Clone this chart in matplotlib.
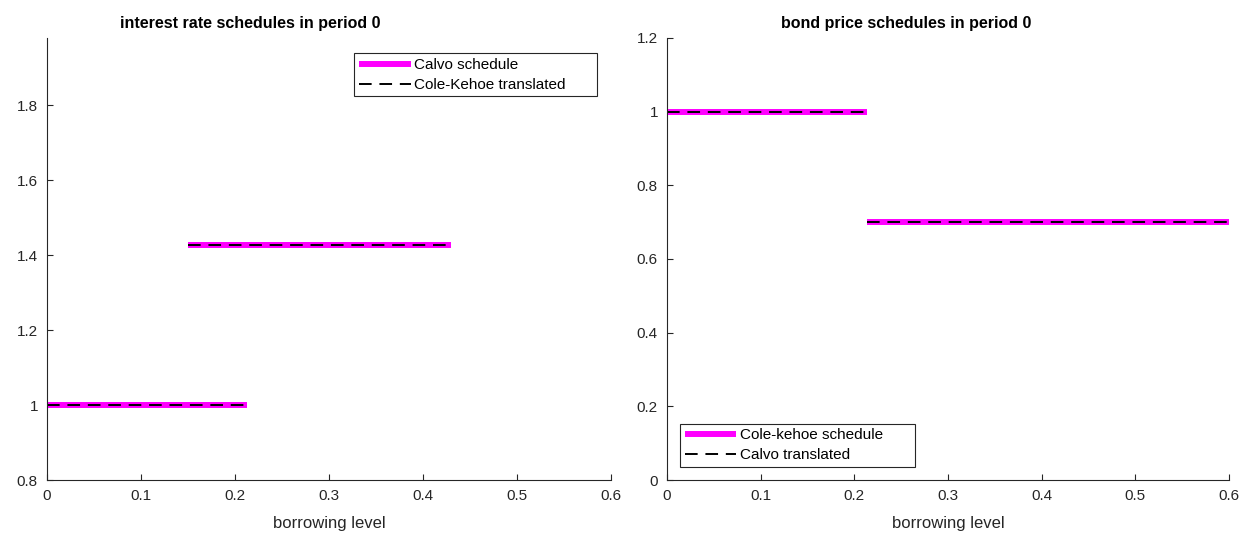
import matplotlib.pyplot as plt
from matplotlib.patches import Rectangle
from matplotlib.transforms import IdentityTransform

plt.rcParams['font.family'] = ['Liberation Sans', 'DejaVu Sans']

# interest rate schedules (left panel)
rate_calvo_x = [[0.0, 0.213], [0.15, 0.43]]
rate_calvo_y = [[1.0, 1.0], [1.4286, 1.4286]]
rate_ck_x = [[0.0, 0.213], [0.15, 0.43]]
rate_ck_y = [[1.0, 1.0], [1.4286, 1.4286]]

# bond price schedules (right panel)
price_ck_x = [[0.0, 0.213], [0.213, 0.6]]
price_ck_y = [[1.0, 1.0], [0.7, 0.7]]
price_calvo_x = [[0.0, 0.213], [0.213, 0.6]]
price_calvo_y = [[1.0, 1.0], [0.7, 0.7]]

xticks = [0, 0.1, 0.2, 0.3, 0.4, 0.5, 0.6]
xtick_labels = ['0', '0.1', '0.2', '0.3', '0.4', '0.5', '0.6']
left_yticks = [0.8, 1.0, 1.2, 1.4, 1.6, 1.8]
left_ytick_labels = ['0.8', '1', '1.2', '1.4', '1.6', '1.8']
right_yticks = [0, 0.2, 0.4, 0.6, 0.8, 1.0, 1.2]
right_ytick_labels = ['0', '0.2', '0.4', '0.6', '0.8', '1', '1.2']

fig = plt.figure(figsize=(12.42, 5.34), dpi=100)
ax1 = fig.add_axes([47 / 1242, 54 / 534, 564 / 1242, 442 / 534])
ax2 = fig.add_axes([667 / 1242, 54 / 534, 562 / 1242, 442 / 534])

magenta = '#ff00ff'
dark = '#262626'


def style(ax):
    for s in ['top', 'right']:
        ax.spines[s].set_visible(False)
    for s in ['left', 'bottom']:
        ax.spines[s].set_linewidth(0.8)
        ax.spines[s].set_color(dark)
    ax.tick_params(direction='in', length=4, width=0.8, labelsize=11,
                   colors=dark, pad=6.5)
    ax.set_xticks(xticks)
    ax.set_xticklabels(xtick_labels)
    ax.set_xlim(0, 0.6)
    ax.set_xlabel('borrowing level', fontsize=12, color=dark, labelpad=9)


def add_legend(ax, **kw):
    leg = ax.legend(fontsize=11, handlelength=3.4, handletextpad=0.2,
                    borderpad=0.3, labelspacing=0.38, frameon=False,
                    borderaxespad=0, **kw)
    leg.set_zorder(6)
    return leg


for i, (xs, ys) in enumerate(zip(rate_calvo_x, rate_calvo_y)):
    ax1.plot(xs, ys, color=magenta, lw=4.3, solid_capstyle='butt',
             label='Calvo schedule' if i == 0 else None)
for i, (xs, ys) in enumerate(zip(rate_ck_x, rate_ck_y)):
    ax1.plot(xs, ys, color='black', lw=1.4, dashes=(6.5, 4),
             label='Cole-Kehoe translated' if i == 0 else None)
style(ax1)
ax1.set_ylim(0.8, 1.98)
ax1.set_yticks(left_yticks)
ax1.set_yticklabels(left_ytick_labels)
ax1.set_title('interest rate schedules in period 0', fontsize=11.5,
              fontweight='bold', pad=7, x=0.36)
leg1 = add_legend(ax1, loc='upper left', bbox_to_anchor=(0.545, 0.965))

for i, (xs, ys) in enumerate(zip(price_ck_x, price_ck_y)):
    ax2.plot(xs, ys, color=magenta, lw=4.3, solid_capstyle='butt',
             label='Cole-kehoe schedule' if i == 0 else None)
for i, (xs, ys) in enumerate(zip(price_calvo_x, price_calvo_y)):
    ax2.plot(xs, ys, color='black', lw=1.4, dashes=(6.5, 4),
             label='Calvo translated' if i == 0 else None)
style(ax2)
ax2.set_ylim(0, 1.2)
ax2.set_yticks(right_yticks)
ax2.set_yticklabels(right_ytick_labels)
ax2.set_title('bond price schedules in period 0', fontsize=11.5,
              fontweight='bold', pad=7, x=0.425)
leg2 = add_legend(ax2, loc='lower left', bbox_to_anchor=(0.023, 0.03))

# MATLAB-style legend boxes with extra room on the right
fig.canvas.draw()
for ax, leg, box_right in [(ax1, leg1, 597), (ax2, leg2, 915)]:
    bb = leg.get_window_extent()
    box = Rectangle((bb.x0, bb.y0), box_right - bb.x0, bb.height,
                    transform=IdentityTransform(), facecolor='white',
                    edgecolor=dark, linewidth=0.8, zorder=5, clip_on=False)
    ax.add_artist(box)

fig.savefig('out.png', dpi=100)
